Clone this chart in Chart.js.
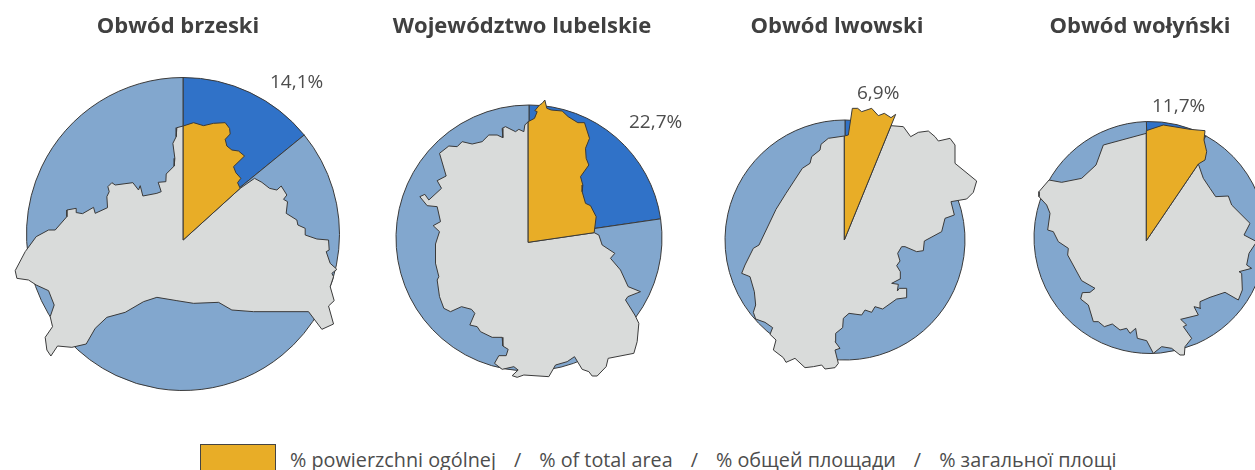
<!DOCTYPE html>
<html>
<head>
<meta charset="utf-8">
<title>Powierzchnia ogólna</title>
<script src="https://cdn.jsdelivr.net/npm/chart.js@4"></script>
<style>
  html, body { margin: 0; padding: 0; background: #fff; }
  body { position: relative; width: 1255px; height: 470px; overflow: hidden; font-family: "Open Sans", sans-serif; color: #404040; }
  canvas { position: absolute; top: 0; }
  .title { position: absolute; top: 8px; transform: translateX(-50%); font-size: 22px; font-weight: 700; line-height: 32px; white-space: nowrap; }
  .share { position: absolute; font-size: 19px; line-height: 26px; white-space: nowrap; color: #4d4d4d; }
  .swatch { position: absolute; left: 200px; top: 444px; width: 74px; height: 30px; background: #e8ad27; border: 1px solid #444; }
  .legend-text { position: absolute; left: 290px; top: 446px; font-size: 19.8px; line-height: 28px; white-space: nowrap; color: #4d4d4d; }
  .legend-text .sep { margin: 0 18px; }
</style>
</head>
<body>
<div class="swatch"></div>
<div class="legend-text" id="legend-text"></div>

<script>
 const titles = ['Obwód brzeski', 'Województwo lubelskie', 'Obwód lwowski', 'Obwód wołyński'];
 const shares = [14.1, 22.7, 6.9, 11.7];
 // The drawn slice for Wołyń is narrower than its printed label, it stays hidden behind the map
 const sliceValues = [14.1, 22.7, 6.9, 8.5];
 const legendLabels = ['% powierzchni ogólnej', '% of total area', '% общей площади', '% загальної площі'];

 // Map outlines (x, y in trace units, 3 per pixel)
 const brzeskiPart = [[549,540],[549,198],[580,188],[610,197],[640,190],[675,188],[688,205],[690,222],[675,238],[680,258],[695,270],[715,273],[733,288],[700,320],[707,338],[722,355],[712,368],[720,385]];
 const brzeskiRest = [[549,540],[549,198],[530,203],[528,230],[518,250],[524,295],[522,318],[498,342],[497,365],[474,367],[483,395],[470,400],[428,408],[420,377],[415,390],[398,368],[345,375],[335,368],[323,380],[327,395],[320,410],[322,443],[285,460],[280,442],[247,461],[230,458],[228,445],[200,450],[200,470],[165,510],[145,510],[108,530],[75,575],[45,632],[50,655],[85,660],[108,675],[145,692],[162,735],[150,770],[157,800],[135,832],[140,870],[152,888],[172,858],[215,862],[258,852],[285,805],[320,772],[375,757],[430,725],[470,712],[530,722],[580,730],[655,727],[695,750],[760,755],[925,755],[965,808],[1000,792],[985,738],[1002,722],[990,680],[1000,650],[995,640],[1010,628],[990,610],[978,575],[987,570],[985,540],[950,537],[915,525],[915,505],[893,495],[890,480],[858,460],[862,425],[850,418],[860,405],[843,378],[830,390],[808,385],[785,367],[763,355],[720,385]];

 const lubelskiePart = [[428,457],[428,95],[447,85],[455,65],[448,62],[462,45],[470,40],[478,30],[484,55],[497,60],[530,63],[548,80],[577,98],[597,98],[612,145],[600,175],[602,205],[610,225],[585,260],[592,285],[590,305],[600,340],[615,347],[632,380],[626,428]];
 const lubelskieRest = [[428,457],[428,95],[418,105],[415,125],[400,118],[390,125],[360,110],[350,115],[352,143],[335,135],[310,135],[290,155],[260,162],[230,155],[215,170],[190,168],[162,190],[182,258],[155,272],[168,295],[130,330],[118,313],[103,320],[125,347],[155,350],[165,395],[143,407],[162,425],[150,462],[150,520],[160,560],[155,570],[162,620],[175,655],[195,665],[228,650],[258,658],[268,670],[253,705],[275,710],[285,725],[320,742],[350,742],[352,768],[368,778],[362,797],[340,797],[327,820],[350,838],[385,830],[398,840],[380,857],[395,862],[415,855],[490,860],[510,825],[545,815],[567,800],[590,838],[610,845],[620,858],[635,858],[662,830],[668,805],[745,790],[755,755],[760,700],[748,675],[720,630],[727,620],[765,605],[728,590],[705,540],[675,505],[688,490],[650,465],[640,435],[626,428]];

 const lwowskiPart = [[388,495],[388,183],[400,180],[412,100],[428,100],[440,110],[470,100],[490,122],[508,115],[528,128],[542,118]];
 const lwowskiRest = [[388,495],[388,183],[340,190],[318,208],[315,225],[290,245],[285,265],[262,280],[213,355],[183,403],[132,510],[115,520],[90,570],[80,595],[105,605],[118,650],[122,690],[115,712],[122,732],[150,742],[173,758],[165,778],[183,795],[175,825],[205,848],[213,862],[240,850],[270,878],[295,875],[320,870],[330,882],[360,878],[370,865],[360,825],[375,820],[360,800],[362,775],[383,758],[385,730],[402,715],[440,720],[450,705],[470,712],[480,695],[503,702],[545,672],[575,668],[575,640],[553,640],[547,648],[550,628],[530,625],[555,612],[556,590],[545,572],[555,558],[548,535],[560,515],[570,515],[605,530],[625,527],[628,498],[680,470],[690,430],[718,420],[708,380],[755,372],[775,352],[785,318],[720,265],[720,210],[705,190],[670,198],[660,185],[640,168],[610,172],[587,185],[565,155],[528,152]];

 const wolynskiPart = [[364,452],[364,122],[415,105],[495,118],[540,122],[537,150],[545,185],[540,210],[520,222]];
 const wolynskiRest = [[364,452],[364,130],[235,165],[213,225],[170,265],[110,277],[72,270],[42,305],[42,320],[65,345],[75,370],[68,420],[85,425],[100,455],[130,475],[128,495],[170,572],[210,595],[195,607],[172,608],[167,627],[190,645],[205,695],[220,695],[238,710],[262,702],[285,720],[305,715],[315,730],[332,715],[337,745],[365,752],[385,790],[410,770],[440,775],[465,795],[478,795],[480,770],[500,745],[475,710],[485,705],[467,688],[520,675],[507,650],[527,655],[525,635],[555,622],[600,607],[640,630],[652,600],[650,550],[642,545],[680,535],[665,525],[672,490],[695,455],[657,435],[675,400],[620,345],[610,318],[572,320],[555,295],[535,265],[520,222]];

 const parts = [brzeskiPart, lubelskiePart, lwowskiPart, wolynskiPart];
 const rests = [brzeskiRest, lubelskieRest, lwowskiRest, wolynskiRest];

 // Where each panel sits on the page
 const panels = [
   { cx: 182.8, cy: 234, r: 156.5, rotation: 0, halfW: 183, traceX: 0, traceY: 60, titleX: 178, shareX: 270, shareY: 68 },
   { cx: 528.5, cy: 238, r: 133, rotation: 0, halfW: 160, traceX: 385, traceY: 90, titleX: 522, shareX: 629, shareY: 108 },
   { cx: 845, cy: 240, r: 120, rotation: 0, halfW: 145, traceX: 715, traceY: 75, titleX: 837, shareX: 857, shareY: 79 },
   { cx: 1150, cy: 237.7, r: 116, rotation: -1.8, halfW: 125, traceX: 1025, traceY: 90, titleX: 1140, shareX: 1152, shareY: 92 }
 ];

 const colors = { part: '#e8ad27', rest: '#d9dbda', slice: '#3072c8', pie: '#82a7ce', line: '#3a3a3a' };

 function outline(points, color) {
   const closed = points.concat([points[0]]);
   return {
     type: 'scatter',
     showLine: true,
     weight: 0, // or the pie shrinks to share its rings with these
     data: closed.map(p => ({ x: p[0], y: p[1] })),
     backgroundColor: color,
     borderColor: colors.line,
     borderWidth: 1,
     pointRadius: 0,
     tension: 0,
     fill: 'shape'
   };
 }

 const legendText = document.getElementById('legend-text');
 legendLabels.forEach((label, i) => {
   if (i > 0) {
     const sep = document.createElement('span');
     sep.className = 'sep';
     sep.textContent = '/';
     legendText.appendChild(sep);
   }
   legendText.appendChild(document.createTextNode(label));
 });

 panels.forEach((panel, i) => {
   const canvas = document.createElement('canvas');
   const width = panel.halfW * 2;
   const height = Math.round(panel.cy * 2);
   canvas.width = width;
   canvas.height = height;
   canvas.style.left = (panel.cx - panel.halfW) + 'px';
   canvas.style.width = width + 'px';
   canvas.style.height = height + 'px';
   document.body.appendChild(canvas);

   // First dataset ends up on top
   new Chart(canvas, {
     type: 'scatter',
     data: {
       datasets: [
         outline(parts[i], colors.part),
         outline(rests[i], colors.rest),
         {
           type: 'pie',
           data: [sliceValues[i], 100 - sliceValues[i]],
           backgroundColor: [colors.slice, colors.pie],
           borderColor: colors.line,
           borderWidth: 1,
           radius: panel.r,
           rotation: panel.rotation
         }
       ]
     },
     options: {
       responsive: false,
       animation: false,
       events: [],
       layout: { padding: 0 },
       plugins: { legend: { display: false }, tooltip: { enabled: false } },
       scales: {
         x: {
           display: false,
           min: (panel.cx - panel.halfW - panel.traceX) * 3,
           max: (panel.cx + panel.halfW - panel.traceX) * 3
         },
         y: {
           display: false,
           reverse: true,
           min: (0 - panel.traceY) * 3,
           max: (height - panel.traceY) * 3
         }
       }
     }
   });

   const title = document.createElement('div');
   title.className = 'title';
   title.style.left = panel.titleX + 'px';
   title.textContent = titles[i];
   document.body.appendChild(title);

   const share = document.createElement('div');
   share.className = 'share';
   share.style.left = panel.shareX + 'px';
   share.style.top = panel.shareY + 'px';
   share.textContent = String(shares[i]).replace('.', ',') + '%';
   document.body.appendChild(share);
 });
</script>
</body>
</html>
